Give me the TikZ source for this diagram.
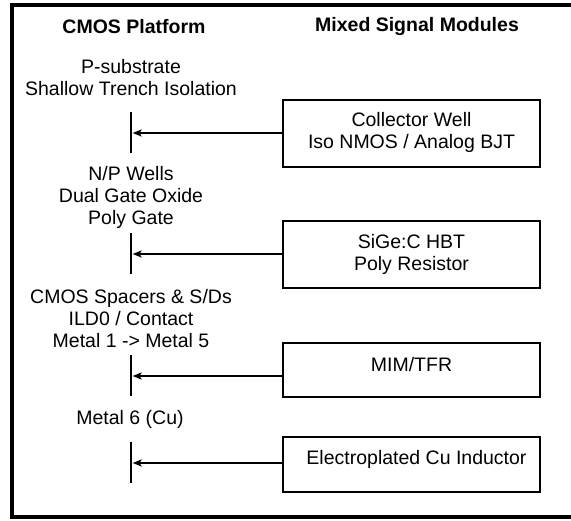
\documentclass[tikz,border=0pt]{standalone}
\usepackage{fontspec}
\setmainfont{Liberation Sans}
\usetikzlibrary{arrows.meta}
\tikzset{
  hdr/.style={font=\fontsize{19.5}{22}\selectfont\bfseries, inner sep=0pt},
  lbl/.style={font=\fontsize{19.5}{22}\selectfont, align=center, inner sep=0pt},
  modbox/.style={draw, line width=2.8pt, minimum width=257pt, inner sep=0pt},
  modtxt/.style={font=\fontsize{19.5}{21.5}\selectfont, align=center, inner sep=0pt},
  barmark/.style={rectangle, fill=black, minimum width=2.8pt, minimum height=41pt, inner sep=0pt},
  feed/.style={line width=2.4pt, -{Stealth[length=9pt,width=7pt,inset=2pt]}},
}

\begin{document}

\begin{tikzpicture}[x=1pt,y=-1pt]
\useasboundingbox (0,0) rectangle (571,521);
\draw[line width=4.6pt] (580,5) -- (12,5) -- (12,517) -- (580,517);
\node[hdr] (h1) at (134,27) {CMOS Platform};
\node[hdr] (h2) at (417,27) {Mixed Signal Modules};
\node[lbl] (l1) at (131,78) {P-substrate\\Shallow Trench Isolation};
\node[lbl] (l2) at (131,197) {N/P Wells\\Dual Gate Oxide\\Poly Gate};
\node[lbl] (l3) at (131,318.5) {CMOS Spacers \& S/Ds\\ILD0 / Contact\\Metal 1 -> Metal 5};
\node[lbl] (l4) at (130,419) {Metal 6 (Cu)};
\node[modbox, minimum height=67pt] (m1) at (411.5,133.5) {};
\node[modtxt] (t1) at ([yshift=1pt]m1.center) {Collector Well\\Iso NMOS / Analog BJT};
\node[modbox, minimum height=67pt] (m2) at (411.5,254.5) {};
\node[modtxt] (t2) at (m2.center) {SiGe:C HBT\\Poly Resistor};
\node[modbox, minimum height=54pt] (m3) at (411.5,370) {};
\node[modtxt] (t3) at ([yshift=5pt]m3.center) {MIM/TFR};
\node[modbox, minimum height=55pt] (m4) at (411.5,464.5) {};
\node[modtxt] (t4) at ([xshift=5pt,yshift=5pt]m4.center) {Electroplated Cu Inductor};
\node[barmark] (b1) at (131,133) {};
\node[barmark] (b2) at (131,254) {};
\node[barmark] (b3) at (131,376) {};
\node[barmark] (b4) at (131,463) {};
\draw[feed] (m1.west |- b1) -- (b1.east);
\draw[feed] (m2.west |- b2) -- (b2.east);
\draw[feed] (m3.west |- b3) -- (b3.east);
\draw[feed] (m4.west |- b4) -- (b4.east);
\end{tikzpicture}

\end{document}
